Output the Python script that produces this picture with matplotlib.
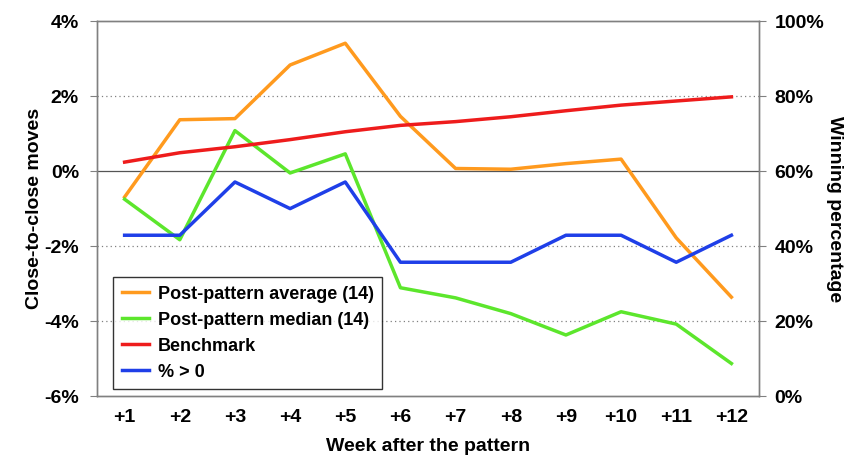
import matplotlib.pyplot as plt
from matplotlib.ticker import FuncFormatter

plt.rcParams['font.family'] = ['Liberation Sans Narrow', 'Liberation Sans', 'DejaVu Sans']
plt.rcParams['font.weight'] = 'bold'

weeks = ["+1", "+2", "+3", "+4", "+5", "+6", "+7", "+8", "+9", "+10", "+11", "+12"]
avg = [-0.69, 1.37, 1.40, 2.83, 3.41, 1.46, 0.07, 0.05, 0.20, 0.32, -1.78, -3.36]
median = [-0.75, -1.83, 1.08, -0.05, 0.46, -3.11, -3.38, -3.80, -4.37, -3.75, -4.08, -5.13]
benchmark = [62.4, 64.9, 66.5, 68.4, 70.5, 72.2, 73.2, 74.5, 76.1, 77.6, 78.7, 79.8]
pct_pos = [42.9, 42.9, 57.1, 50.0, 57.1, 35.7, 35.7, 35.7, 42.9, 42.9, 35.7, 42.9]

ORANGE = '#FF9A1E'
GREEN = '#5CE62C'
RED = '#EE1C1C'
BLUE = '#1F3FE8'
GRAY = '#808080'
FS = 14

fig = plt.figure(figsize=(8.55, 4.59), dpi=100)
ax = fig.add_axes([0.1135, 0.137, 0.7742, 0.817])
ax2 = ax.twinx()

x = list(range(1, len(weeks) + 1))

# left axis: moves
l1, = ax.plot(x, avg, color=ORANGE, lw=2.5, label="Post-pattern average (14)")
l2, = ax.plot(x, median, color=GREEN, lw=2.5, label="Post-pattern median (14)")
ax.set_ylim(-6, 4)
ax.set_xlim(0.5, 12.5)
ax.set_yticks([-6, -4, -2, 0, 2, 4])
ax.yaxis.set_major_formatter(FuncFormatter(lambda v, p: "%d%%" % v))
for g in [-4, -2, 2]:
    ax.axhline(g, color=GRAY, lw=0.9, ls=(0, (1, 2.5)), zorder=0)
ax.axhline(0, color='#555555', lw=0.9, zorder=0.5)
ax.set_xticks(x)
ax.set_xticklabels(weeks)
ax.tick_params(axis='x', length=0, pad=9, labelsize=FS)
ax.tick_params(axis='y', length=5, color=GRAY, labelsize=FS, pad=8)
ax.set_ylabel("Close-to-close moves", fontsize=FS, fontweight='bold', labelpad=1)
ax.set_xlabel("Week after the pattern", fontsize=FS, fontweight='bold', labelpad=9)

# right axis: winning percentage
l3, = ax2.plot(x, benchmark, color=RED, lw=2.5, label="Benchmark")
l4, = ax2.plot(x, pct_pos, color=BLUE, lw=2.5, label="% > 0")
ax2.set_ylim(0, 100)
ax2.set_yticks([0, 20, 40, 60, 80, 100])
ax2.yaxis.set_major_formatter(FuncFormatter(lambda v, p: "%d%%" % v))
ax2.tick_params(axis='y', length=5, color=GRAY, labelsize=FS, pad=6)
ax2.set_ylabel("Winning percentage", fontsize=FS, fontweight='bold', rotation=270, labelpad=14)

for a in (ax, ax2):
    for s in a.spines.values():
        s.set_color(GRAY)
        s.set_linewidth(1.0)

leg = ax2.legend(handles=[l1, l2, l3, l4], loc='lower left',
                 bbox_to_anchor=(0.024, 0.018), borderaxespad=0, fontsize=13,
                 frameon=True, fancybox=False, edgecolor='black', handlelength=1.5,
                 handletextpad=0.5, labelspacing=0.5, borderpad=0.48)
leg.get_frame().set_linewidth(1.0)

fig.savefig("out.png", dpi=100)
